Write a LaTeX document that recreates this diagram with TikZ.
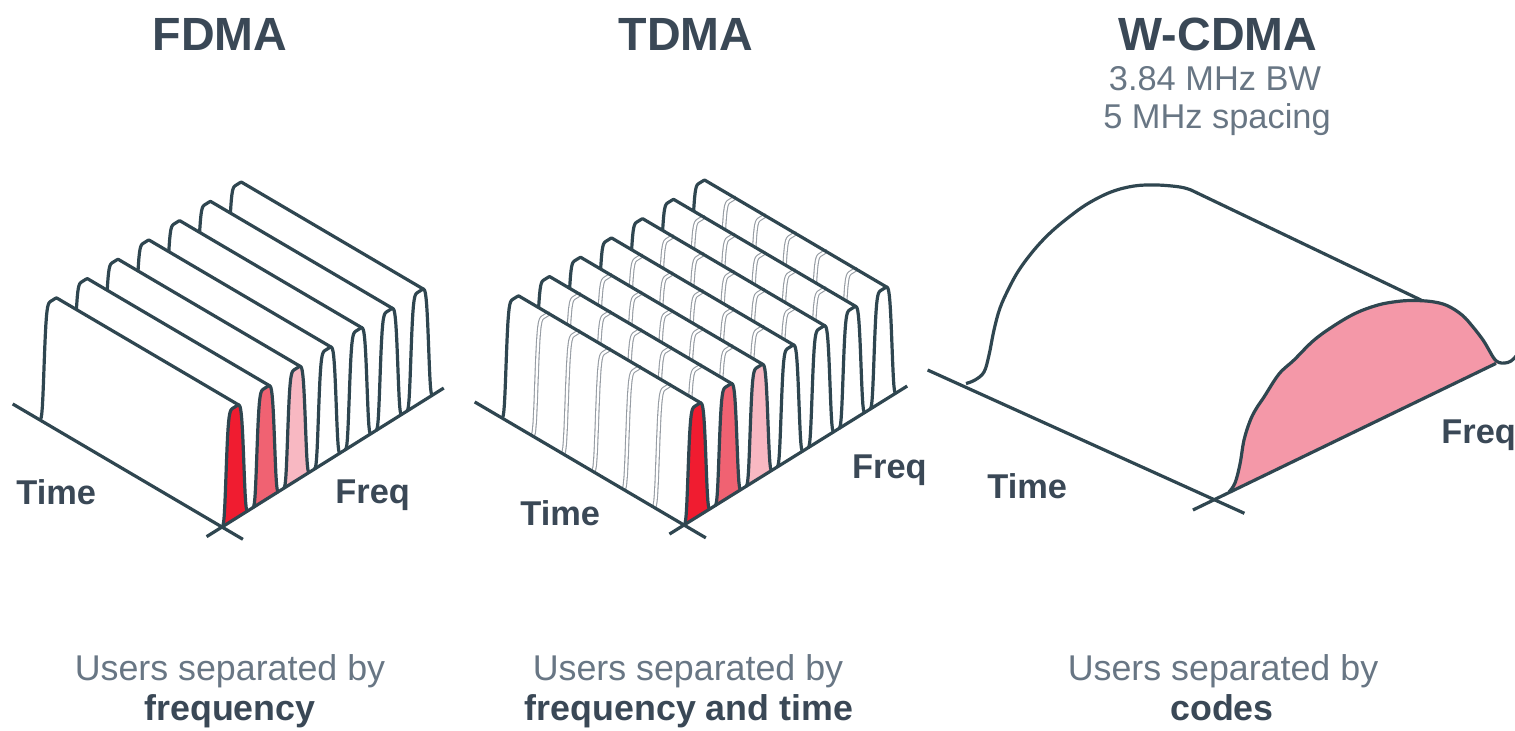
\documentclass[tikz,border=0pt]{standalone}
\usepackage{fontspec}
\setmainfont{Liberation Sans}
\definecolor{ink}{RGB}{47,70,80}
\definecolor{headink}{RGB}{58,72,86}
\definecolor{softink}{RGB}{104,118,132}
\definecolor{slotgray}{RGB}{150,156,163}
\definecolor{userA}{RGB}{240,28,48}
\definecolor{userB}{RGB}{240,98,114}
\definecolor{userC}{RGB}{248,184,194}
\definecolor{codepink}{RGB}{244,152,168}

% One frequency channel: a narrow pulse swept along the time axis.
% #1 channel index, #2 colour of the front face, #3 = 1 to mark the time slots
\newcommand\channelridge[3]{%
  \fill[white] plot[domain=0:0.5525,samples=30] ({#1+\x},{pk(\x)},1)
    -- plot[domain=0.5525:0.84,samples=20] ({#1+\x},{pk(\x)},0)
    -- (#1,0,0) -- cycle;
  \fill[#2] plot[domain=0:0.84,samples=48] ({#1+\x},{pk(\x)},0) -- cycle;
  \ifnum#3=1
    \foreach \k in {1,...,5}{
      \draw[slotline] plot[domain=0:0.5525,samples=30] ({#1+\x},{pk(\x)},{\k/6});
    }
  \fi
  \draw[edge3d] plot[domain=0:0.5525,samples=30] ({#1+\x},{pk(\x)},1)
    -- ({#1+0.5525},{pk(0.5525)},0);
  \draw[edge3d] plot[domain=0:0.84,samples=48] ({#1+\x},{pk(\x)},0);
}

\begin{document}
\begin{tikzpicture}[x=0.5pt,y=-0.5pt,
  declare function={pq(\u)=(\u-0.42)*(\u-0.42)/0.09; pk(\u)=exp(-pq(\u)*pq(\u)*pq(\u));},
  edge3d/.style={draw=ink,line width=1.6pt,line join=round},
  slotline/.style={draw=slotgray,line width=0.55pt,double=white,double distance=1.1pt},
  heading/.style={font=\fontsize{23.3}{28}\selectfont\bfseries,text=headink,inner sep=0pt,anchor=base},
  subhead/.style={font=\fontsize{17.2}{20}\selectfont,text=softink,inner sep=0pt,anchor=base},
  axislabel/.style={font=\fontsize{17.2}{20}\selectfont\bfseries,text=headink,inner sep=0pt,anchor=base west},
  caption/.style={font=\fontsize{17.9}{21}\selectfont,text=softink,inner sep=0pt,anchor=base},
  captionbold/.style={caption,font=\fontsize{17.9}{21}\selectfont\bfseries,text=headink}]
\useasboundingbox (0,0) rectangle (1515,730);

% ---------- FDMA ----------
\begin{scope}[shift={(222,527)}]
\begin{scope}[x={(15.4pt,9.65pt)},y={(0pt,56pt)},z={(-91pt,53.5pt)}]
  \foreach \c in {6,5,4,3}{\channelridge{\c}{white}{0}}
  \channelridge{2}{userC}{0}
  \channelridge{1}{userB}{0}
  \channelridge{0}{userA}{0}
  \coordinate (fdmaTimeFar) at (0,0,1.15);
  \coordinate (fdmaTimeNear) at (0,0,-0.115);
  \coordinate (fdmaFreqNear) at (-0.5,0,0);
  \coordinate (fdmaFreqFar) at (7.2,0,0);
  \draw[edge3d] (fdmaTimeFar) -- (fdmaTimeNear);
  \draw[edge3d] (fdmaFreqNear) -- (fdmaFreqFar);
\end{scope}
\end{scope}

% ---------- TDMA ----------
\begin{scope}[shift={(684,525)}]
\begin{scope}[x={(15.5pt,9.65pt)},y={(0pt,56pt)},z={(-91pt,53.5pt)}]
  \foreach \c in {6,5,4,3}{\channelridge{\c}{white}{1}}
  \channelridge{2}{userC}{1}
  \channelridge{1}{userB}{1}
  \channelridge{0}{userA}{1}
  \coordinate (tdmaTimeFar) at (0,0,1.15);
  \coordinate (tdmaTimeNear) at (0,0,-0.12);
  \coordinate (tdmaFreqNear) at (-0.47,0,0);
  \coordinate (tdmaFreqFar) at (7.2,0,0);
  \draw[edge3d] (tdmaTimeFar) -- (tdmaTimeNear);
  \draw[edge3d] (tdmaFreqNear) -- (tdmaFreqFar);
\end{scope}
\end{scope}

% ---------- W-CDMA ----------
\coordinate (wTimeFar) at (927.6,370);
\coordinate (wTimeNear) at (1244.4,513.3);
\coordinate (wFreqNear) at (1192.9,510);
\coordinate (wFreqFar) at (1496,363.4);
% wide carrier, far end and ridge
\draw[edge3d] plot[smooth,tension=0.6] coordinates {(966,383.5) (975,380) (984,372) (989,355) (994,330)
  (1000,308) (1009,288) (1019,270) (1034,250) (1050,233) (1069,217) (1088,203.5) (1111,192) (1134,186)
  (1157,185) (1180,187) (1191,190)} -- (1424,301.5);
% wide carrier, near face
\fill[codepink] plot[smooth,tension=0.6] coordinates {(1229,492) (1235,483) (1240,464) (1244,440)
  (1250,421) (1256,409) (1264,397) (1279,374) (1294,360) (1313,341) (1332,327) (1355,313.5)
  (1378,305) (1397,301.5) (1412,300.5) (1431,301.5) (1447,305.5) (1462,315) (1473,327)
  (1483,340) (1489,350) (1494,358.5) (1499,362.5)} -- cycle;
\draw[edge3d] plot[smooth,tension=0.6] coordinates {(1229,492) (1235,483) (1240,464) (1244,440)
  (1250,421) (1256,409) (1264,397) (1279,374) (1294,360) (1313,341) (1332,327) (1355,313.5)
  (1378,305) (1397,301.5) (1412,300.5) (1431,301.5) (1447,305.5) (1462,315) (1473,327)
  (1483,340) (1489,350) (1494,358.5) (1499,362.5) (1505,363) (1511,361) (1517,355)};
\draw[edge3d] (wTimeFar) -- (wTimeNear);
\draw[edge3d] (wFreqNear) -- (wFreqFar);

% ---------- headings ----------
\node[heading] (fdmaHead) at (220,50) {FDMA};
\node[heading] (tdmaHead) at (686,50) {TDMA};
\node[heading] (wcdmaHead) at (1218,50) {W-CDMA};
\node[subhead] (wcdmaBw) at (1215,90) {3.84 MHz BW};
\node[subhead] (wcdmaSpacing) at (1217,128.3) {5 MHz spacing};

% ---------- axis labels ----------
\node[axislabel] (fdmaTime) at (16,504) {Time};
\node[axislabel] (fdmaFreq) at (335,503.3) {Freq};
\node[axislabel] (tdmaTime) at (520,525) {Time};
\node[axislabel] (tdmaFreq) at (851.7,478.3) {Freq};
\node[axislabel] (wcdmaTime) at (987,498.3) {Time};
\node[axislabel] (wcdmaFreq) at (1441,443.3) {Freq};

% ---------- captions ----------
\node[caption] (fdmaCap) at (230,680) {Users separated by};
\node[captionbold] (fdmaCapB) at (230,720) {frequency};
\node[caption] (tdmaCap) at (688,680) {Users separated by};
\node[captionbold] (tdmaCapB) at (689,720) {frequency and time};
\node[caption] (wcdmaCap) at (1223,680) {Users separated by};
\node[captionbold] (wcdmaCapB) at (1222,720) {codes};
\end{tikzpicture}
\end{document}
